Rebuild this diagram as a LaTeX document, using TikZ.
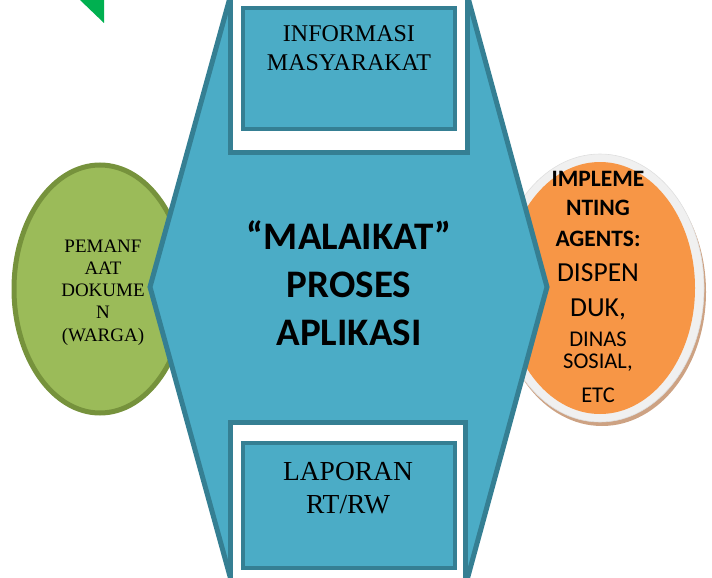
\documentclass[tikz,border=0pt]{standalone}
\usepackage{fontspec}
\setmainfont{Liberation Serif}
\newfontfamily\calib{Carlito}
\definecolor{hexblue}{HTML}{4BACC6}
\definecolor{hexedge}{HTML}{357F93}
\definecolor{leafgreen}{HTML}{9BBB59}
\definecolor{leafedge}{HTML}{76923C}
\definecolor{agentorange}{HTML}{F79646}
\definecolor{ringgrey}{HTML}{F0F0F0}
\definecolor{ringshadow}{HTML}{CDA283}
\definecolor{cornergreen}{HTML}{00B050}
\begin{document}
\begin{tikzpicture}[x=1pt,y=-1pt,
  hexshape/.style={fill=hexblue,draw=hexedge,line width=5pt,line join=miter},
  framebox/.style={fill=white,draw=hexedge,line width=5pt},
  innerbox/.style={fill=hexblue,draw=hexedge,line width=4pt},
  lbl/.style={anchor=base,inner sep=0pt,text=black},
  serifA/.style={font=\fontsize{24}{29}\selectfont},
  serifB/.style={font=\fontsize{27.5}{33}\selectfont},
  serifC/.style={font=\fontsize{19}{22.25}\selectfont},
  bigsans/.style={font=\calib\bfseries\fontsize{39}{48}\selectfont},
  agentbold/.style={lbl,font=\calib\bfseries\fontsize{23.5}{28}\selectfont},
  agentbig/.style={lbl,font=\calib\fontsize{27.5}{32}\selectfont},
  agentsmall/.style={lbl,font=\calib\fontsize{22.5}{27}\selectfont}]
\useasboundingbox (0,0) rectangle (712,578);
\clip (0,0) rectangle (712,578);

% corner triangle
\fill[cornergreen] (80,0) -- (104,0) -- (104,23) -- cycle;

% left ellipse (citizens)
\coordinate (gc) at (100,289);
\filldraw[fill=leafgreen,draw=leafedge,line width=5pt] (gc) ellipse [x radius=86, y radius=124];

% right ellipse (implementing agents)
\coordinate (oc) at (600,288);
\fill[ringshadow] ([shift={(2,4)}]oc) ellipse [x radius=104, y radius=134];
\filldraw[fill=ringgrey,draw=ringgrey!85!gray,line width=0.6pt] (oc) ellipse [x radius=104, y radius=134];
\fill[agentorange] (oc) ellipse [x radius=95, y radius=126];

% central hexagon
\coordinate (hL) at (150,287);
\coordinate (hTL) at (231,-6);
\coordinate (hTR) at (467,-6);
\coordinate (hR) at (547,287);
\coordinate (hBR) at (467,580);
\coordinate (hBL) at (231,580);
\draw[hexshape] (hL) -- (hTL) -- (hTR) -- (hR) -- (hBR) -- (hBL) -- cycle;

% top frame and box
\draw[framebox] (230.5,-10) rectangle (467.5,152.5);
\draw[innerbox] (243,8) rectangle (455,129);
% bottom frame and box
\draw[framebox] (230.5,422) rectangle (465.5,600);
\draw[innerbox] (243,443) rectangle (455,567.5);

% texts
\node[lbl,serifA] (info) at (349,41.5) {\begin{tabular}[t]{@{}c@{}}INFORMASI\\MASYARAKAT\end{tabular}};
\node[lbl,serifB] (lapor) at (348,480) {\begin{tabular}[t]{@{}c@{}}LAPORAN\\RT/RW\end{tabular}};
\node[lbl,serifC] (warga) at (103,252) {\begin{tabular}[t]{@{}c@{}}PEMANF\\AAT\\DOKUME\\N\\(WARGA)\end{tabular}};
\node[lbl,bigsans] (proses) at (349,249) {\begin{tabular}[t]{@{}c@{}}“MALAIKAT”\\PROSES\\APLIKASI\end{tabular}};

\node[agentbold] (o1) at (598,186) {IMPLEME};
\node[agentbold] (o2) at (598,215.5) {NTING};
\node[agentbold] (o3) at (598,246.5) {AGENTS:};
\node[agentbig] (o4) at (598,281.5) {DISPEN};
\node[agentbig] (o5) at (598,316.5) {DUK,};
\node[agentsmall] (o6) at (598,346.5) {DINAS};
\node[agentsmall] (o7) at (598,368) {SOSIAL,};
\node[agentsmall] (o8) at (598,402) {ETC};
\end{tikzpicture}
\end{document}
